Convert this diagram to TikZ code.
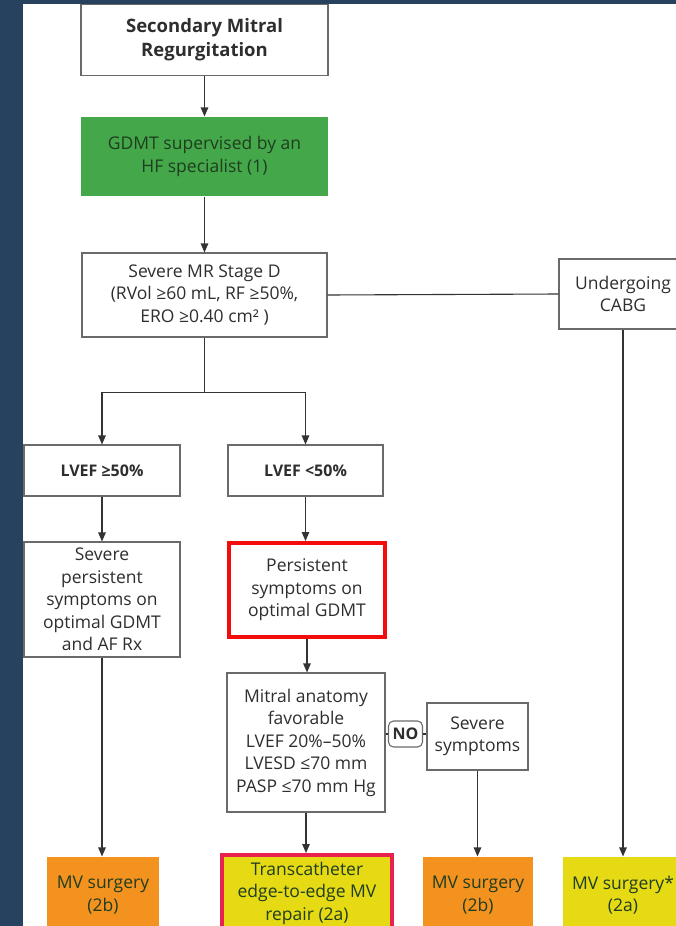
\documentclass[tikz,border=0pt]{standalone}
\usepackage{fontspec}
\setmainfont{Open Sans}
\usetikzlibrary{arrows.meta,calc}
\definecolor{navy}{HTML}{27425F}
\definecolor{boxgray}{HTML}{6A6A6A}
\definecolor{txt}{HTML}{2E2E2E}
\definecolor{linec}{HTML}{333333}
\definecolor{gdmtgreen}{HTML}{44A84B}
\definecolor{greentxt}{HTML}{1F3D1F}
\definecolor{orangefill}{HTML}{F4921F}
\definecolor{yellowfill}{HTML}{E6DA15}
\definecolor{redborder}{HTML}{F20C0C}
\definecolor{pinkborder}{HTML}{E8214E}
\begin{document}
\begin{tikzpicture}[x=1pt,y=-1pt,
  box/.style={draw=boxgray, line width=1.1pt, fill=white, align=center, text=txt,
    font=\fontsize{17.5}{22.5}\selectfont, inner sep=0pt},
  boldbox/.style={box, font=\fontsize{16}{22}\selectfont\bfseries},
  titlebox/.style={box, font=\fontsize{18.5}{24}\selectfont\bfseries},
  greenbox/.style={box, draw=none, fill=gdmtgreen, text=greentxt},
  orangebox/.style={box, draw=none, fill=orangefill, text=greentxt},
  yellowbox/.style={box, draw=none, fill=yellowfill, text=greentxt},
  redbox/.style={box, draw=redborder, line width=4pt},
  nobox/.style={box, rounded corners=5pt, font=\fontsize{16}{18}\selectfont\bfseries, line width=1.1pt},
  arr/.style={-{Triangle[length=9pt,width=7.5pt]}, line width=1.1pt, draw=linec},
  ln/.style={line width=1.1pt, draw=linec}]
\useasboundingbox (0,0) rectangle (676,926);
\fill[navy] (0,0) rectangle (676,926);
\fill[white] (23,4) rectangle (676,926);
\begin{scope}
\clip (23,4) rectangle (676,926);
% nodes
\node[titlebox, minimum width=247pt, minimum height=71pt] (title) at (204.5,40) {Secondary Mitral\\Regurgitation};
\node[greenbox, minimum width=247pt, minimum height=79pt] (gdmt) at (204.5,156.5) {GDMT supervised by an\\HF specialist (1)};
\node[box, minimum width=245pt, minimum height=84pt] (sev) at (204.5,295) {Severe MR Stage D\\(RVol ≥60 mL, RF ≥50\%,\\ERO ≥0.40 cm² )};
\node[box, minimum width=128pt, minimum height=70pt] (cabg) at (623,294) {Undergoing\\CABG};
\node[boldbox, minimum width=156pt, minimum height=51pt] (lv1) at (102,470.5) {LVEF ≥50\%};
\node[boldbox, minimum width=155pt, minimum height=51pt] (lv2) at (305.5,470.5) {LVEF <50\%};
\node[box, minimum width=156pt, minimum height=115pt] (sp) at (102,599.5) {Severe\\persistent\\symptoms on\\optimal GDMT\\and AF Rx};
\node[redbox, minimum width=156pt, minimum height=94pt] (ps) at (307,590) {Persistent\\symptoms on\\optimal GDMT};
\node[box, minimum width=158pt, minimum height=139pt] (mit) at (306,742.5) {Mitral anatomy\\favorable\\LVEF 20\%–50\%\\LVESD ≤70 mm\\PASP ≤70 mm Hg};
\node[nobox, minimum width=34pt, minimum height=26pt] (no) at (405.5,734) {NO};
\node[box, minimum width=101pt, minimum height=67pt] (ss) at (477.5,736.5) {Severe\\symptoms};
\node[orangebox, minimum width=112pt, minimum height=76pt] (mv1) at (103,895) {MV surgery\\(2b)};
\node[yellowbox, draw=pinkborder, line width=4pt, minimum width=170pt, minimum height=76pt] (tr) at (307,893) {Transcatheter\\edge-to-edge MV\\repair (2a)};
\node[orangebox, minimum width=110pt, minimum height=76pt] (mv2) at (478,895) {MV surgery\\(2b)};
\node[yellowbox, minimum width=120pt, minimum height=76pt] (mv3) at (623,895) {MV surgery*\\(2a)};
% connectors
\draw[arr] (title) -- (gdmt);
\draw[arr] (gdmt) -- (sev);
\draw[ln] (sev.east) -- (cabg.west);
\draw[ln] (sev.south) -- ++(0,55) coordinate (split);
\draw[arr] (split) -| (lv1.north);
\draw[arr] (split) -| (lv2.north);
\draw[arr] (lv1.south) -- (sp.north);
\draw[arr] (lv2.south) -- (lv2.south |- ps.north);
\draw[arr] (sp.south) -- (sp.south |- mv1.north);
\draw[arr] (ps.south) -- (ps.south |- mit.north);
\draw[arr] (mit.south) -- (mit.south |- tr.north);
\draw[ln] (mit.east |- no.west) -- (no.west);
\draw[ln] (no.east) -- (no.east -| ss.west);
\draw[arr] (ss.south) -- (ss.south |- mv2.north);
\draw[arr] (cabg.south) -- (mv3.north);
\end{scope}
\end{tikzpicture}
\end{document}
